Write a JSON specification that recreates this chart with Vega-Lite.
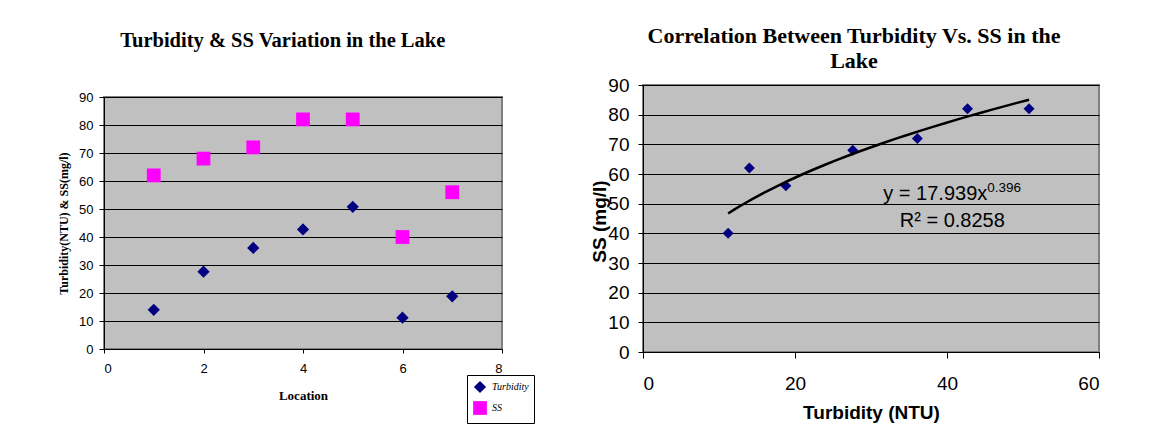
{
  "$schema": "https://vega.github.io/schema/vega-lite/v6.json",
  "padding": {"left": 56, "top": 24, "right": 0, "bottom": 0},
  "background": "white",
  "spacing": 85,
  "datasets": {
    "long": [
      {"Location": 1, "Parameter": "Turbidity", "Value": 14},
      {"Location": 2, "Parameter": "Turbidity", "Value": 27.6},
      {"Location": 3, "Parameter": "Turbidity", "Value": 36.1},
      {"Location": 4, "Parameter": "Turbidity", "Value": 42.7},
      {"Location": 5, "Parameter": "Turbidity", "Value": 50.8},
      {"Location": 6, "Parameter": "Turbidity", "Value": 11.2},
      {"Location": 7, "Parameter": "Turbidity", "Value": 18.8},
      {"Location": 1, "Parameter": "SS", "Value": 62},
      {"Location": 2, "Parameter": "SS", "Value": 68},
      {"Location": 3, "Parameter": "SS", "Value": 72},
      {"Location": 4, "Parameter": "SS", "Value": 82},
      {"Location": 5, "Parameter": "SS", "Value": 82},
      {"Location": 6, "Parameter": "SS", "Value": 40},
      {"Location": 7, "Parameter": "SS", "Value": 56}
    ],
    "wide": [
      {"Location": 1, "Turbidity": 14, "SS": 62},
      {"Location": 2, "Turbidity": 27.6, "SS": 68},
      {"Location": 3, "Turbidity": 36.1, "SS": 72},
      {"Location": 4, "Turbidity": 42.7, "SS": 82},
      {"Location": 5, "Turbidity": 50.8, "SS": 82},
      {"Location": 6, "Turbidity": 11.2, "SS": 40},
      {"Location": 7, "Turbidity": 18.8, "SS": 56}
    ],
    "empty": []
  },
  "config": {
    "view": {"fill": "#C0C0C0", "stroke": "#808080", "strokeWidth": 2},
    "axis": {
      "domainColor": "black",
      "tickColor": "black",
      "gridColor": "black",
      "gridOpacity": 1,
      "labelColor": "black",
      "titleColor": "black",
      "labelFont": "Liberation Sans",
      "tickSize": 5
    },
    "title": {"color": "black", "font": "Liberation Serif", "fontWeight": "bold", "anchor": "middle"}
  },
  "hconcat": [
    {
      "title": {"text": "Turbidity & SS Variation in the Lake", "fontSize": 20.5, "offset": 34, "dx": 3},
      "spacing": 4,
      "vconcat": [
        {
          "width": 398,
          "height": 1,
          "view": {"fill": null, "stroke": null},
          "data": {"name": "empty"},
          "mark": {"type": "point"}
        },
        {
          "width": 398,
          "height": 252,
          "data": {"name": "long"},
          "mark": {"type": "point", "filled": true, "opacity": 1},
          "encoding": {
            "x": {
              "field": "Location", "type": "quantitative",
              "scale": {"domain": [0, 8], "nice": false},
              "axis": {
                "values": [0, 2, 4, 6, 8], "grid": false, "labelFontSize": 13,
                "labelPadding": 9, "tickSize": 4,
                "title": "Location", "titleFont": "Liberation Serif", "titleFontWeight": "bold",
                "titleFontSize": 13, "titleY": 46, "titleBaseline": "middle"
              }
            },
            "y": {
              "field": "Value", "type": "quantitative",
              "scale": {"domain": [0, 90], "nice": false},
              "axis": {
                "values": [0, 10, 20, 30, 40, 50, 60, 70, 80, 90], "grid": true, "labelFontSize": 13,
                "labelPadding": 6,
                "title": "Turbidity(NTU) & SS(mg/l)", "titleFont": "Liberation Serif", "titleFontWeight": "bold",
                "titleFontSize": 12, "titleX": -34, "titleBaseline": "bottom"
              }
            },
            "color": {
              "field": "Parameter", "type": "nominal",
              "scale": {"domain": ["Turbidity", "SS"], "range": ["#000080", "#FF00FF"]},
              "legend": {
                "orient": "none", "legendX": 363, "legendY": 290, "title": null,
                "fillColor": "white", "strokeColor": "black", "padding": 5,
                "labelFont": "Liberation Serif", "labelFontStyle": "italic", "labelFontSize": 10,
                "labelColor": "black", "symbolSize": 70, "rowPadding": 1, "symbolOpacity": 1
              }
            },
            "shape": {
              "field": "Parameter", "type": "nominal",
              "scale": {"domain": ["Turbidity", "SS"], "range": ["diamond", "square"]}
            },
            "size": {
              "field": "Parameter", "type": "nominal",
              "scale": {"domain": ["Turbidity", "SS"], "range": [150, 190]},
              "legend": null
            }
          }
        }
      ]
    },
    {
      "width": 456,
      "height": 267,
      "title": {"text": ["Correlation Between Turbidity Vs. SS in the", "Lake"], "fontSize": 22, "lineHeight": 25, "offset": 3, "dx": -17},
      "data": {"name": "wide"},
      "encoding": {
        "x": {
          "field": "Turbidity", "type": "quantitative",
          "scale": {"domain": [0, 60], "nice": false},
          "axis": {
            "values": [0, 20, 40, 60], "grid": false, "labelFontSize": 19,
            "labelPadding": 16, "tickSize": 6,
            "title": "Turbidity (NTU)", "titleFont": "Liberation Sans", "titleFontWeight": "bold",
            "titleFontSize": 19, "titleY": 60, "titleBaseline": "middle"
          }
        },
        "y": {
          "field": "SS", "type": "quantitative",
          "scale": {"domain": [0, 90], "nice": false},
          "axis": {
            "values": [0, 10, 20, 30, 40, 50, 60, 70, 80, 90], "grid": true, "labelFontSize": 19,
            "labelPadding": 9,
            "title": "SS (mg/l)", "titleFont": "Liberation Sans", "titleFontWeight": "bold",
            "titleFontSize": 19, "titleX": -34, "titleY": 136, "titleBaseline": "bottom"
          }
        }
      },
      "layer": [
        {
          "mark": {"type": "point", "shape": "diamond", "filled": true, "color": "#000080", "opacity": 1, "size": 120}
        },
        {
          "transform": [{"regression": "SS", "on": "Turbidity", "method": "pow"}],
          "mark": {"type": "line", "color": "black", "strokeWidth": 2.5}
        },
        {
          "transform": [{"filter": "datum.Location == 1"}],
          "mark": {"type": "text", "text": "y = 17.939x", "align": "right", "baseline": "middle", "font": "Liberation Sans", "fontWeight": "normal", "fontSize": 20, "color": "black"},
          "encoding": {"x": {"datum": 45.3}, "y": {"datum": 53.3}}
        },
        {
          "transform": [{"filter": "datum.Location == 1"}],
          "mark": {"type": "text", "text": "0.396", "align": "left", "baseline": "middle", "font": "Liberation Sans", "fontWeight": "normal", "fontSize": 13.5, "color": "black"},
          "encoding": {"x": {"datum": 45.3}, "y": {"datum": 55.4}}
        },
        {
          "transform": [{"filter": "datum.Location == 1"}],
          "mark": {"type": "text", "text": "R² = 0.8258", "align": "center", "baseline": "middle", "font": "Liberation Sans", "fontWeight": "normal", "fontSize": 20, "color": "black"},
          "encoding": {"x": {"datum": 40.7}, "y": {"datum": 44.2}}
        }
      ]
    }
  ]
}
